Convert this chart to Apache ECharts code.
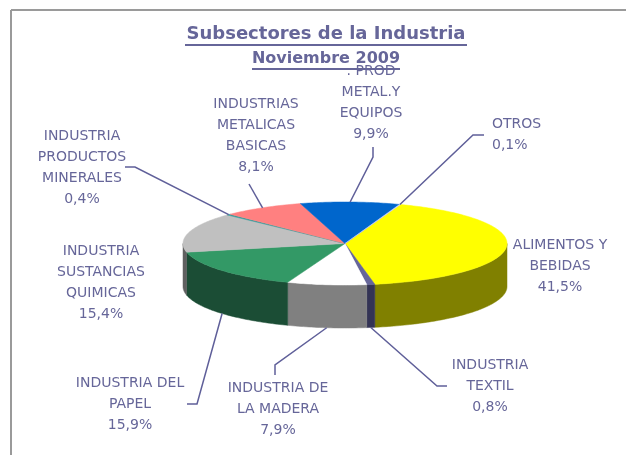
<!DOCTYPE html>
<html>
<head>
<meta charset="utf-8">
<script src="https://cdn.jsdelivr.net/npm/echarts@6/dist/echarts.min.js"></script>
<style>
  html, body { margin: 0; padding: 0; background: #fff; }
  #chart { width: 626px; height: 455px; }
</style>
</head>
<body>
<div id="chart"></div>
<script>
// datos del grafico
const categories = [
    'ALIMENTOS Y\nBEBIDAS',
    'INDUSTRIA\nTEXTIL',
    'INDUSTRIA DE\nLA MADERA',
    'INDUSTRIA DEL\nPAPEL',
    'INDUSTRIA\nSUSTANCIAS\nQUIMICAS',
    'INDUSTRIA\nPRODUCTOS\nMINERALES',
    'INDUSTRIAS\nMETALICAS\nBASICAS',
    '. PROD\nMETAL.Y\nEQUIPOS',
    'OTROS'
];
const shares = [41.5, 0.8, 7.9, 15.9, 15.4, 0.4, 8.1, 9.9, 0.1];

// colores: cara superior y lateral
const topColors = ['#FFFF00', '#666699', '#FFFFFF', '#339966', '#C0C0C0', '#339999', '#FF8080', '#0066CC', '#CCCCFF'];
const sideColors = ['#808000', '#333355', '#808080', '#1B4D35', '#606060', '#1A4D4D', '#804040', '#003366', '#666680'];

// posicion de etiquetas y lineas guia
const labelPos = [[560, 235], [490, 355], [278, 378], [130, 373], [101, 241], [82, 126], [256, 94], [371, 61], [492, 114]];
const labelAlign = ['center', 'center', 'center', 'center', 'center', 'center', 'center', 'center', 'left'];
const leaderPts = [
    null,
    [[447, 386], [437, 386]],
    [[275, 375], [275, 365]],
    [[187, 404], [197, 404]],
    null,
    [[125, 167], [135, 167]],
    [[249, 184]],
    [[373, 147], [373, 157]],
    [[484, 135], [473, 135]]
];

const CX = 345, CY = 243.5, RX = 162, RY = 41.5, DEPTH = 43, START = 20;
const TEXT_COLOR = '#666699';

const total = shares.reduce((a, b) => a + b, 0);
const angles = [];
let acc = START;
shares.forEach(v => {
    const a0 = acc;
    acc += v / total * 360;
    angles.push([a0, acc]);
});

function pt(theta, dy) {
    const r = theta * Math.PI / 180;
    return [CX + RX * Math.sin(r), CY - RY * Math.cos(r) + (dy || 0)];
}
function arc(a0, a1, dy) {
    const pts = [];
    const n = Math.max(2, Math.ceil((a1 - a0) / 1));
    for (let i = 0; i <= n; i++) pts.push(pt(a0 + (a1 - a0) * i / n, dy));
    return pts;
}
function fmt(v) { return v.toFixed(1).replace('.', ',') + '%'; }

const seriesData = shares.map((v, i) => ({ name: categories[i], value: v }));

let option = {
    backgroundColor: '#fff',
    animation: false,
    graphic: [
        { type: 'line', shape: { x1: 11, y1: 10, x2: 626, y2: 10 }, style: { stroke: '#9a9a9a', lineWidth: 2 } },
        { type: 'line', shape: { x1: 11, y1: 10, x2: 11, y2: 455 }, style: { stroke: '#9a9a9a', lineWidth: 2 } },
        { type: 'text', style: { text: 'Subsectores de la Industria', x: 326, y: 34, textAlign: 'center', textVerticalAlign: 'middle', align: 'center', verticalAlign: 'middle', font: 'bold 18px "DejaVu Sans"', fill: TEXT_COLOR } },
        { type: 'line', shape: { x1: 185, y1: 45, x2: 467, y2: 45 }, style: { stroke: TEXT_COLOR, lineWidth: 2 } },
        { type: 'text', style: { text: 'Noviembre 2009', x: 326, y: 59, textAlign: 'center', textVerticalAlign: 'middle', align: 'center', verticalAlign: 'middle', font: 'bold 16px "DejaVu Sans"', fill: TEXT_COLOR } },
        { type: 'line', shape: { x1: 252, y1: 69, x2: 400, y2: 69 }, style: { stroke: TEXT_COLOR, lineWidth: 2 } }
    ],
    series: [
        {
            // paredes laterales (solo la mitad frontal)
            type: 'custom',
            coordinateSystem: 'none',
            z: 1,
            data: seriesData,
            renderItem: (params) => {
                const i = params.dataIndex;
                const a0 = Math.max(angles[i][0], 90), a1 = Math.min(angles[i][1], 270);
                if (a1 <= a0) return null;
                const up = arc(a0, a1, 0);
                const down = arc(a0, a1, DEPTH).reverse();
                return {
                    type: 'polygon',
                    shape: { points: up.concat(down) },
                    style: { fill: sideColors[i], stroke: sideColors[i], lineWidth: 0.5 }
                };
            }
        },
        {
            // cara superior
            type: 'custom',
            coordinateSystem: 'none',
            z: 2,
            data: seriesData,
            renderItem: (params) => {
                const i = params.dataIndex;
                const pts = [[CX, CY]].concat(arc(angles[i][0], angles[i][1], 0));
                return {
                    type: 'polygon',
                    shape: { points: pts },
                    style: { fill: topColors[i], stroke: topColors[i], lineWidth: 0.5 }
                };
            }
        },
        {
            // etiquetas y lineas guia
            type: 'custom',
            coordinateSystem: 'none',
            z: 3,
            data: seriesData,
            renderItem: (params) => {
                const i = params.dataIndex;
                const children = [];
                const mid = (angles[i][0] + angles[i][1]) / 2;
                const m = ((mid % 360) + 360) % 360;
                const front = m > 90 && m < 270;
                if (leaderPts[i]) {
                    const end = pt(mid, front ? DEPTH : 0);
                    children.push({
                        type: 'polyline',
                        shape: { points: leaderPts[i].concat([end]) },
                        style: { stroke: '#5F5F99', lineWidth: 1.5, fill: null }
                    });
                }
                children.push({
                    type: 'text',
                    style: {
                        text: categories[i] + '\n' + fmt(shares[i]),
                        x: labelPos[i][0], y: labelPos[i][1],
                        textAlign: labelAlign[i], align: labelAlign[i],
                        textVerticalAlign: 'top', verticalAlign: 'top',
                        font: '14px "DejaVu Sans"', lineHeight: 21,
                        fill: TEXT_COLOR
                    }
                });
                return { type: 'group', children: children };
            }
        }
    ]
};

echarts.init(document.getElementById('chart')).setOption(option);
</script>
</body>
</html>
